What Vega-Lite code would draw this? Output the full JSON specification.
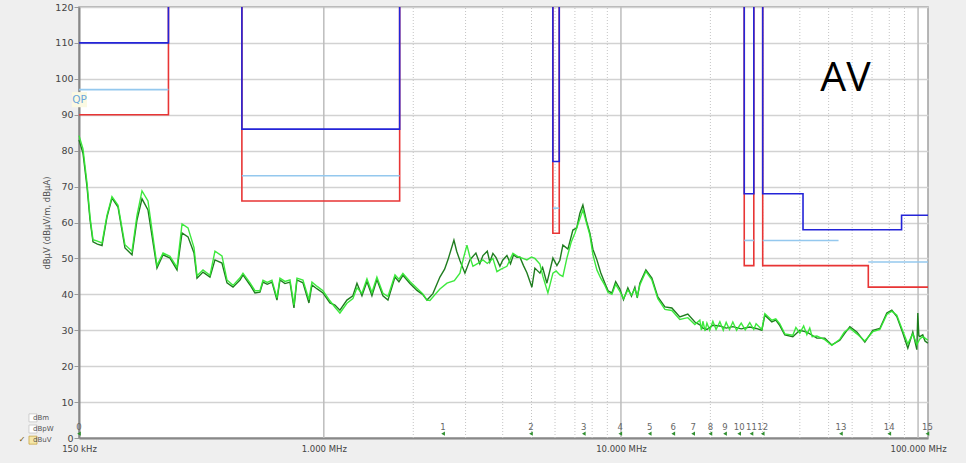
{
  "$schema": "https://vega.github.io/schema/vega-lite/v6.json",
  "width": 849,
  "height": 431,
  "autosize": {"type": "none"},
  "padding": {"left": 79, "top": 7, "right": 38, "bottom": 25},
  "background": "#efefef",
  "config": {
    "view": {"fill": "white", "stroke": "#a0a0a0", "strokeWidth": 1.5}
  },
  "datasets": {
    "grid": [
      {"f":1,"k":"major","v":0,"v2":120},{"f":10,"k":"major","v":0,"v2":120},{"f":100,"k":"major","v":0,"v2":120},
      {"f":2,"k":"minor","v":0,"v2":120},{"f":3,"k":"minor","v":0,"v2":120},{"f":4,"k":"minor","v":0,"v2":120},{"f":5,"k":"minor","v":0,"v2":120},{"f":6,"k":"minor","v":0,"v2":120},{"f":7,"k":"minor","v":0,"v2":120},{"f":8,"k":"minor","v":0,"v2":120},{"f":9,"k":"minor","v":0,"v2":120},
      {"f":20,"k":"minor","v":0,"v2":120},{"f":30,"k":"minor","v":0,"v2":120},{"f":40,"k":"minor","v":0,"v2":120},{"f":50,"k":"minor","v":0,"v2":120},{"f":60,"k":"minor","v":0,"v2":120},{"f":70,"k":"minor","v":0,"v2":120},{"f":80,"k":"minor","v":0,"v2":120},{"f":90,"k":"minor","v":0,"v2":120}
    ],
    "trace": [
      {"s":"d","f":0.15,"v":83.0},{"s":"d","f":0.1547,"v":79.3},{"s":"d","f":0.1596,"v":70},{"s":"d","f":0.1634,"v":60.7},{"s":"d","f":0.1672,"v":54.6},{"s":"d","f":0.173,"v":54.0},{"s":"d","f":0.1793,"v":53.6},{"s":"d","f":0.1863,"v":61.5},{"s":"d","f":0.1937,"v":66.8},{"s":"d","f":0.203,"v":64.3},{"s":"d","f":0.2142,"v":52.9},{"s":"d","f":0.2262,"v":51},{"s":"d","f":0.2351,"v":60.7},{"s":"d","f":0.2444,"v":66.6},{"s":"d","f":0.256,"v":63.5},{"s":"d","f":0.2745,"v":47.3},{"s":"d","f":0.2877,"v":51},{"s":"d","f":0.3036,"v":50.1},{"s":"d","f":0.3206,"v":46.8},{"s":"d","f":0.3333,"v":57.1},{"s":"d","f":0.3491,"v":56},{"s":"d","f":0.3657,"v":51.5},{"s":"d","f":0.3743,"v":44.5},{"s":"d","f":0.3921,"v":46.2},{"s":"d","f":0.4139,"v":44.8},{"s":"d","f":0.4302,"v":49.6},{"s":"d","f":0.4542,"v":48.7},{"s":"d","f":0.4722,"v":43.2},{"s":"d","f":0.4947,"v":42},{"s":"d","f":0.5223,"v":44},{"s":"d","f":0.5346,"v":45.4},{"s":"d","f":0.5645,"v":42.6},{"s":"d","f":0.5865,"v":40.4},{"s":"d","f":0.6096,"v":40.6},{"s":"d","f":0.624,"v":43.4},{"s":"d","f":0.645,"v":42.8},{"s":"d","f":0.669,"v":43.4},{"s":"d","f":0.6956,"v":38.4},{"s":"d","f":0.7119,"v":44},{"s":"d","f":0.74,"v":43},{"s":"d","f":0.7694,"v":43.4},{"s":"d","f":0.7935,"v":36.2},{"s":"d","f":0.8121,"v":44},{"s":"d","f":0.8508,"v":43.2},{"s":"d","f":0.8912,"v":37.6},{"s":"d","f":0.9122,"v":42.6},{"s":"d","f":0.95,"v":41.5},{"s":"d","f":0.9933,"v":40.4},{"s":"d","f":1.0485,"v":37.6},{"s":"d","f":1.09,"v":37.0},{"s":"d","f":1.133,"v":35.6},{"s":"d","f":1.196,"v":38.4},{"s":"d","f":1.253,"v":39.6},{"s":"d","f":1.293,"v":43.1},{"s":"d","f":1.344,"v":39.6},{"s":"d","f":1.397,"v":43.6},{"s":"d","f":1.452,"v":39.6},{"s":"d","f":1.509,"v":44.1},{"s":"d","f":1.581,"v":39.6},{"s":"d","f":1.644,"v":38.4},{"s":"d","f":1.736,"v":44.8},{"s":"d","f":1.79,"v":43.5},{"s":"d","f":1.846,"v":45.3},{"s":"d","f":1.949,"v":43},{"s":"d","f":2.058,"v":41.1},{"s":"d","f":2.15,"v":40},{"s":"d","f":2.225,"v":38.4},{"s":"d","f":2.329,"v":40.2},{"s":"d","f":2.459,"v":44.8},{"s":"d","f":2.55,"v":47},{"s":"d","f":2.617,"v":49.6},{"s":"d","f":2.741,"v":55.1},{"s":"d","f":2.8,"v":52},{"s":"d","f":2.871,"v":49.4},{"s":"d","f":2.985,"v":45.9},{"s":"d","f":3.103,"v":49.6},{"s":"d","f":3.25,"v":51.5},{"s":"d","f":3.35,"v":48.5},{"s":"d","f":3.432,"v":50.8},{"s":"d","f":3.55,"v":52},{"s":"d","f":3.62,"v":49},{"s":"d","f":3.708,"v":51.4},{"s":"d","f":3.8,"v":50.2},{"s":"d","f":3.915,"v":47.8},{"s":"d","f":4.0,"v":49.5},{"s":"d","f":4.133,"v":50.8},{"s":"d","f":4.25,"v":48.5},{"s":"d","f":4.35,"v":51},{"s":"d","f":4.466,"v":50.3},{"s":"d","f":4.569,"v":50.4},{"s":"d","f":4.7,"v":48},{"s":"d","f":4.825,"v":46},{"s":"d","f":5.016,"v":42},{"s":"d","f":5.133,"v":47.3},{"s":"d","f":5.337,"v":45.9},{"s":"d","f":5.45,"v":47.5},{"s":"d","f":5.634,"v":43.1},{"s":"d","f":5.903,"v":50.1},{"s":"d","f":6.089,"v":48},{"s":"d","f":6.23,"v":49.5},{"s":"d","f":6.377,"v":53.7},{"s":"d","f":6.63,"v":52.6},{"s":"d","f":6.891,"v":57.9},{"s":"d","f":7.1,"v":58.5},{"s":"d","f":7.275,"v":62.6},{"s":"d","f":7.446,"v":64.9},{"s":"d","f":7.65,"v":60.5},{"s":"d","f":7.862,"v":57},{"s":"d","f":8.05,"v":52.5},{"s":"d","f":8.3,"v":49.6},{"s":"d","f":8.55,"v":46},{"s":"d","f":8.832,"v":43.1},{"s":"d","f":9.05,"v":41},{"s":"d","f":9.323,"v":40.4},{"s":"d","f":9.6,"v":43.5},{"s":"d","f":9.917,"v":41.5},{"s":"d","f":10.2,"v":38.5},{"s":"d","f":10.55,"v":41.8},{"s":"d","f":10.85,"v":39.5},{"s":"d","f":11.14,"v":42},{"s":"d","f":11.35,"v":39},{"s":"d","f":11.58,"v":43.1},{"s":"d","f":12.13,"v":46.8},{"s":"d","f":12.71,"v":44.5},{"s":"d","f":13.31,"v":39.3},{"s":"d","f":14.06,"v":36.5},{"s":"d","f":14.84,"v":36.2},{"s":"d","f":15.78,"v":33.7},{"s":"d","f":16.79,"v":34.5},{"s":"d","f":17.73,"v":32.3},{"s":"d","f":18.43,"v":31.5},{"s":"d","f":18.87,"v":30.6},{"s":"d","f":19.47,"v":30.2},{"s":"d","f":20.39,"v":31.4},{"s":"d","f":21.53,"v":31.2},{"s":"d","f":22.6,"v":30.6},{"s":"d","f":23.8,"v":31},{"s":"d","f":25.4,"v":30.4},{"s":"d","f":27.14,"v":30.9},{"s":"d","f":28.5,"v":30.5},{"s":"d","f":29.8,"v":30},{"s":"d","f":30.5,"v":34.2},{"s":"d","f":32.2,"v":32.3},{"s":"d","f":33.2,"v":32.8},{"s":"d","f":34.26,"v":31.3},{"s":"d","f":35.61,"v":28.7},{"s":"d","f":37.89,"v":28.2},{"s":"d","f":40.0,"v":30},{"s":"d","f":42.24,"v":29.5},{"s":"d","f":44.0,"v":28.6},{"s":"d","f":45.63,"v":27.8},{"s":"d","f":48.54,"v":27.8},{"s":"d","f":51.26,"v":25.9},{"s":"d","f":54.54,"v":27.2},{"s":"d","f":56.5,"v":29},{"s":"d","f":58.94,"v":31},{"s":"d","f":62.22,"v":29.5},{"s":"d","f":66.2,"v":26.7},{"s":"d","f":70.43,"v":30},{"s":"d","f":74.36,"v":30.5},{"s":"d","f":78.5,"v":34.8},{"s":"d","f":81.59,"v":35.6},{"s":"d","f":84.81,"v":33.8},{"s":"d","f":88.85,"v":29.2},{"s":"d","f":92.36,"v":25},{"s":"d","f":96.0,"v":29.5},{"s":"d","f":99.05,"v":24.6},{"s":"d","f":99.8,"v":34.8},{"s":"d","f":100.6,"v":28.5},{"s":"d","f":101.4,"v":28.2},{"s":"d","f":103.7,"v":28.7},{"s":"d","f":105.5,"v":27},{"s":"d","f":107.9,"v":26.4},
      {"s":"l","f":0.15,"v":84.2},{"s":"l","f":0.1547,"v":80.5},{"s":"l","f":0.1596,"v":71},{"s":"l","f":0.1634,"v":61.5},{"s":"l","f":0.1672,"v":55.2},{"s":"l","f":0.173,"v":54.8},{"s":"l","f":0.1793,"v":54.3},{"s":"l","f":0.1863,"v":62},{"s":"l","f":0.1937,"v":67.2},{"s":"l","f":0.203,"v":64.8},{"s":"l","f":0.2142,"v":53.8},{"s":"l","f":0.2262,"v":52},{"s":"l","f":0.2351,"v":62},{"s":"l","f":0.2444,"v":68.8},{"s":"l","f":0.256,"v":66},{"s":"l","f":0.2745,"v":48},{"s":"l","f":0.2877,"v":51.5},{"s":"l","f":0.3036,"v":50.6},{"s":"l","f":0.3206,"v":47.5},{"s":"l","f":0.3333,"v":59.6},{"s":"l","f":0.3491,"v":58.5},{"s":"l","f":0.3657,"v":53},{"s":"l","f":0.3743,"v":45.2},{"s":"l","f":0.3921,"v":46.8},{"s":"l","f":0.4139,"v":45.3},{"s":"l","f":0.4302,"v":52},{"s":"l","f":0.4542,"v":50.7},{"s":"l","f":0.4722,"v":44},{"s":"l","f":0.4947,"v":42.5},{"s":"l","f":0.5223,"v":44.6},{"s":"l","f":0.5346,"v":45.9},{"s":"l","f":0.5645,"v":43.2},{"s":"l","f":0.5865,"v":41},{"s":"l","f":0.6096,"v":41},{"s":"l","f":0.624,"v":43.9},{"s":"l","f":0.645,"v":43.3},{"s":"l","f":0.669,"v":43.9},{"s":"l","f":0.6956,"v":39},{"s":"l","f":0.7119,"v":44.5},{"s":"l","f":0.74,"v":43.6},{"s":"l","f":0.7694,"v":44},{"s":"l","f":0.7935,"v":37},{"s":"l","f":0.8121,"v":44.5},{"s":"l","f":0.8508,"v":44},{"s":"l","f":0.8912,"v":38.5},{"s":"l","f":0.9122,"v":43.4},{"s":"l","f":0.95,"v":42.2},{"s":"l","f":0.9933,"v":41},{"s":"l","f":1.0485,"v":38.2},{"s":"l","f":1.09,"v":36.4},{"s":"l","f":1.133,"v":34.8},{"s":"l","f":1.196,"v":37.5},{"s":"l","f":1.253,"v":38.8},{"s":"l","f":1.293,"v":41.8},{"s":"l","f":1.344,"v":40.3},{"s":"l","f":1.397,"v":44.3},{"s":"l","f":1.452,"v":40.5},{"s":"l","f":1.509,"v":44.8},{"s":"l","f":1.581,"v":40.3},{"s":"l","f":1.644,"v":39.4},{"s":"l","f":1.736,"v":45.4},{"s":"l","f":1.79,"v":44.2},{"s":"l","f":1.846,"v":45.8},{"s":"l","f":1.949,"v":43.6},{"s":"l","f":2.058,"v":41.7},{"s":"l","f":2.15,"v":40.2},{"s":"l","f":2.225,"v":38.4},{"s":"l","f":2.276,"v":38.3},{"s":"l","f":2.36,"v":39.8},{"s":"l","f":2.459,"v":41.5},{"s":"l","f":2.597,"v":43.1},{"s":"l","f":2.75,"v":43.8},{"s":"l","f":2.871,"v":45.9},{"s":"l","f":2.95,"v":50},{"s":"l","f":3.032,"v":53.7},{"s":"l","f":3.1,"v":50.5},{"s":"l","f":3.176,"v":47.8},{"s":"l","f":3.3,"v":48.6},{"s":"l","f":3.432,"v":49.6},{"s":"l","f":3.55,"v":48.6},{"s":"l","f":3.708,"v":50},{"s":"l","f":3.825,"v":46.3},{"s":"l","f":3.95,"v":47},{"s":"l","f":4.133,"v":47.8},{"s":"l","f":4.329,"v":51.4},{"s":"l","f":4.5,"v":50.5},{"s":"l","f":4.677,"v":50},{"s":"l","f":4.825,"v":49.6},{"s":"l","f":5.0,"v":50.4},{"s":"l","f":5.133,"v":50},{"s":"l","f":5.337,"v":48.4},{"s":"l","f":5.462,"v":45},{"s":"l","f":5.678,"v":40.4},{"s":"l","f":5.903,"v":45.9},{"s":"l","f":6.05,"v":46.5},{"s":"l","f":6.23,"v":45.4},{"s":"l","f":6.377,"v":45},{"s":"l","f":6.578,"v":50.1},{"s":"l","f":6.8,"v":54.5},{"s":"l","f":6.999,"v":57},{"s":"l","f":7.2,"v":60},{"s":"l","f":7.446,"v":63.5},{"s":"l","f":7.65,"v":60},{"s":"l","f":7.862,"v":56.5},{"s":"l","f":8.05,"v":51},{"s":"l","f":8.3,"v":46.8},{"s":"l","f":8.55,"v":44.5},{"s":"l","f":8.832,"v":42.5},{"s":"l","f":9.05,"v":40.5},{"s":"l","f":9.323,"v":40},{"s":"l","f":9.6,"v":42.8},{"s":"l","f":9.917,"v":40.8},{"s":"l","f":10.2,"v":38.8},{"s":"l","f":10.55,"v":41.2},{"s":"l","f":10.85,"v":39.8},{"s":"l","f":11.14,"v":41.5},{"s":"l","f":11.35,"v":39.5},{"s":"l","f":11.58,"v":42.6},{"s":"l","f":12.13,"v":46.4},{"s":"l","f":12.71,"v":44},{"s":"l","f":13.31,"v":38.8},{"s":"l","f":14.06,"v":35.8},{"s":"l","f":14.84,"v":35.5},{"s":"l","f":15.78,"v":33},{"s":"l","f":16.79,"v":33.5},{"s":"l","f":17.73,"v":31.6},{"s":"l","f":18.43,"v":32.8},{"s":"l","f":18.65,"v":30},{"s":"l","f":18.87,"v":32.5},{"s":"l","f":19.2,"v":29.8},{"s":"l","f":19.47,"v":32},{"s":"l","f":19.9,"v":30},{"s":"l","f":20.39,"v":32.5},{"s":"l","f":20.9,"v":30.2},{"s":"l","f":21.53,"v":32.4},{"s":"l","f":22.1,"v":30},{"s":"l","f":22.6,"v":32.2},{"s":"l","f":23.2,"v":30.2},{"s":"l","f":23.8,"v":32.3},{"s":"l","f":24.5,"v":30},{"s":"l","f":25.4,"v":32},{"s":"l","f":26.2,"v":30.1},{"s":"l","f":27.14,"v":32.1},{"s":"l","f":28.0,"v":30.2},{"s":"l","f":28.5,"v":31.8},{"s":"l","f":29.8,"v":30.2},{"s":"l","f":30.5,"v":34.6},{"s":"l","f":32.2,"v":32.8},{"s":"l","f":33.2,"v":33.2},{"s":"l","f":34.26,"v":31.8},{"s":"l","f":35.61,"v":29},{"s":"l","f":37.89,"v":28.6},{"s":"l","f":38.8,"v":30.8},{"s":"l","f":40.0,"v":29.2},{"s":"l","f":41.2,"v":31.2},{"s":"l","f":42.24,"v":28.8},{"s":"l","f":43.2,"v":30.6},{"s":"l","f":44.0,"v":28.2},{"s":"l","f":45.63,"v":28.4},{"s":"l","f":48.54,"v":27.4},{"s":"l","f":51.26,"v":25.8},{"s":"l","f":54.54,"v":27.5},{"s":"l","f":56.5,"v":29.5},{"s":"l","f":58.94,"v":30.6},{"s":"l","f":62.22,"v":29},{"s":"l","f":66.2,"v":27},{"s":"l","f":70.43,"v":29.6},{"s":"l","f":74.36,"v":30.2},{"s":"l","f":78.5,"v":34.4},{"s":"l","f":81.59,"v":35.3},{"s":"l","f":84.81,"v":34.2},{"s":"l","f":88.85,"v":29.8},{"s":"l","f":92.36,"v":26.2},{"s":"l","f":96.0,"v":29},{"s":"l","f":99.05,"v":26},{"s":"l","f":101.4,"v":27.6},{"s":"l","f":103.7,"v":28.2},{"s":"l","f":105.5,"v":27.8},{"s":"l","f":107.9,"v":27.2}
    ],
    "limits": [
      {"s":"AV","g":"R1","i":0,"f":0.15,"v":90},{"s":"AV","g":"R1","i":1,"f":0.3,"v":90},{"s":"AV","g":"R1","i":2,"f":0.3,"v":120},
      {"s":"AV","g":"R2","i":0,"f":0.53,"v":120},{"s":"AV","g":"R2","i":1,"f":0.53,"v":66},{"s":"AV","g":"R2","i":2,"f":1.8,"v":66},{"s":"AV","g":"R2","i":3,"f":1.8,"v":120},
      {"s":"AV","g":"R3","i":0,"f":5.9,"v":120},{"s":"AV","g":"R3","i":1,"f":5.9,"v":57},{"s":"AV","g":"R3","i":2,"f":6.2,"v":57},{"s":"AV","g":"R3","i":3,"f":6.2,"v":120},
      {"s":"AV","g":"R4","i":0,"f":26,"v":120},{"s":"AV","g":"R4","i":1,"f":26,"v":48},{"s":"AV","g":"R4","i":2,"f":28,"v":48},{"s":"AV","g":"R4","i":3,"f":28,"v":120},
      {"s":"AV","g":"R5","i":0,"f":30,"v":120},{"s":"AV","g":"R5","i":1,"f":30,"v":48},{"s":"AV","g":"R5","i":2,"f":68,"v":48},{"s":"AV","g":"R5","i":3,"f":68,"v":42},{"s":"AV","g":"R5","i":4,"f":108,"v":42},
      {"s":"PK","g":"B1","i":0,"f":0.15,"v":110},{"s":"PK","g":"B1","i":1,"f":0.3,"v":110},{"s":"PK","g":"B1","i":2,"f":0.3,"v":120},
      {"s":"PK","g":"B2","i":0,"f":0.53,"v":120},{"s":"PK","g":"B2","i":1,"f":0.53,"v":86},{"s":"PK","g":"B2","i":2,"f":1.8,"v":86},{"s":"PK","g":"B2","i":3,"f":1.8,"v":120},
      {"s":"PK","g":"B3","i":0,"f":5.9,"v":120},{"s":"PK","g":"B3","i":1,"f":5.9,"v":77},{"s":"PK","g":"B3","i":2,"f":6.2,"v":77},{"s":"PK","g":"B3","i":3,"f":6.2,"v":120},
      {"s":"PK","g":"B4","i":0,"f":26,"v":120},{"s":"PK","g":"B4","i":1,"f":26,"v":68},{"s":"PK","g":"B4","i":2,"f":28,"v":68},{"s":"PK","g":"B4","i":3,"f":28,"v":120},
      {"s":"PK","g":"B5","i":0,"f":30,"v":120},{"s":"PK","g":"B5","i":1,"f":30,"v":68},{"s":"PK","g":"B5","i":2,"f":41,"v":68},{"s":"PK","g":"B5","i":3,"f":41,"v":58},{"s":"PK","g":"B5","i":4,"f":88,"v":58},{"s":"PK","g":"B5","i":5,"f":88,"v":62},{"s":"PK","g":"B5","i":6,"f":108,"v":62},
      {"s":"QP","g":"Q1","i":0,"f":0.15,"v":97},{"s":"QP","g":"Q1","i":1,"f":0.3,"v":97},
      {"s":"QP","g":"Q2","i":0,"f":0.53,"v":73},{"s":"QP","g":"Q2","i":1,"f":1.8,"v":73},
      {"s":"QP","g":"Q3","i":0,"f":5.9,"v":64},{"s":"QP","g":"Q3","i":1,"f":6.2,"v":64},
      {"s":"QP","g":"Q4","i":0,"f":26,"v":55},{"s":"QP","g":"Q4","i":1,"f":28,"v":55},
      {"s":"QP","g":"Q5","i":0,"f":30,"v":55},{"s":"QP","g":"Q5","i":1,"f":54,"v":55},
      {"s":"QP","g":"Q6","i":0,"f":68,"v":49},{"s":"QP","g":"Q6","i":1,"f":108,"v":49}
    ],
    "markers": [
      {"n":"0","f":0.15,"v":1.2},{"n":"1","f":2.52,"v":1.2},{"n":"2","f":4.98,"v":1.2},{"n":"3","f":7.5,"v":1.2},{"n":"4","f":9.95,"v":1.2},{"n":"5","f":12.5,"v":1.2},{"n":"6","f":15,"v":1.2},{"n":"7","f":17.5,"v":1.2},{"n":"8","f":20,"v":1.2},{"n":"9","f":22.4,"v":1.2},{"n":"10","f":25,"v":1.2},{"n":"11","f":27.5,"v":1.2},{"n":"12","f":30,"v":1.2},{"n":"13","f":55,"v":1.2},{"n":"14","f":80,"v":1.2},{"n":"15","f":107.5,"v":1.2}
    ],
    "units": [
      {"t":"dBm","on":false,"f":0.105,"v":5.6},{"t":"dBpW","on":false,"f":0.105,"v":2.5},{"t":"dBuV","on":true,"f":0.105,"v":-0.6}
    ],
    "notes": [
      {"t":"QP","f":0.1505,"v":94.2},{"t":"AV","f":57,"v":100}
    ]
  },
  "encoding": {
    "x": {"field": "f", "type": "quantitative",
          "scale": {"type": "log", "domain": [0.15, 108], "nice": false},
          "axis": {"title": null, "values": [0.15, 1, 10, 100], "grid": false, "ticks": false,
                   "labelExpr": "datum.value < 0.5 ? '150 kHz' : datum.value < 5 ? '1.000 MHz' : datum.value < 50 ? '10.000 MHz' : '100.000 MHz'",
                   "labelFlush": false, "labelOverlap": false, "labelPadding": 6,
                   "labelFontSize": 8.5, "labelFont": "DejaVu Sans", "labelColor": "#444",
                   "domainColor": "#888", "domainWidth": 2}},
    "y": {"field": "v", "type": "quantitative",
          "scale": {"domain": [0, 120], "nice": false, "zero": false},
          "axis": {"title": "dBµV  (dBµV/m, dBµA)", "values": [0,10,20,30,40,50,60,70,80,90,100,110,120],
                   "labelFontSize": 9.5, "labelFont": "DejaVu Sans", "labelColor": "#444", "labelPadding": 1,
                   "tickSize": 5, "tickColor": "#9a9a9a", "domainColor": "#888", "domainWidth": 2,
                   "gridColor": "#d2d2d2", "gridWidth": 1.5,
                   "titleFont": "DejaVu Sans", "titleFontSize": 8.5, "titleFontWeight": "normal", "titleColor": "#555", "titlePadding": 3}}
  },
  "layer": [
    {"data": {"name": "grid"}, "transform": [{"filter": "datum.k == 'minor'"}],
     "mark": {"type": "rule", "color": "#c4c4c4", "strokeWidth": 1, "strokeDash": [1, 2]},
     "encoding": {"y2": {"field": "v2"}}},
    {"data": {"name": "grid"}, "transform": [{"filter": "datum.k == 'major'"}],
     "mark": {"type": "rule", "color": "#bdbdbd", "strokeWidth": 1.5},
     "encoding": {"y2": {"field": "v2"}}},
    {"data": {"name": "trace"}, "transform": [{"filter": "datum.s == 'd'"}],
     "mark": {"type": "line", "strokeWidth": 1.4, "color": "#1f7d1f"}},
    {"data": {"name": "trace"}, "transform": [{"filter": "datum.s == 'l'"}],
     "mark": {"type": "line", "strokeWidth": 1.4, "color": "#33e833", "opacity": 0.95}},
    {"data": {"name": "limits"}, "transform": [{"filter": "datum.s == 'AV'"}],
     "mark": {"type": "line", "strokeWidth": 1.6, "color": "#e83535"},
     "encoding": {"detail": {"field": "g"}, "order": {"field": "i"}}},
    {"data": {"name": "limits"}, "transform": [{"filter": "datum.s == 'QP'"}],
     "mark": {"type": "line", "strokeWidth": 1.6, "color": "#94c8ee"},
     "encoding": {"detail": {"field": "g"}, "order": {"field": "i"}}},
    {"data": {"name": "limits"}, "transform": [{"filter": "datum.s == 'PK'"}],
     "mark": {"type": "line", "strokeWidth": 1.6, "color": "#2424d8"},
     "encoding": {"detail": {"field": "g"}, "order": {"field": "i"}}},
    {"data": {"name": "markers"},
     "mark": {"type": "point", "shape": "triangle-left", "filled": true, "color": "#2f8f2f", "size": 18, "opacity": 1}},
    {"data": {"name": "markers"},
     "mark": {"type": "text", "fontSize": 8.5, "font": "DejaVu Sans", "color": "#666", "baseline": "middle", "align": "center", "dy": -7},
     "encoding": {"text": {"field": "n"}}},
    {"data": {"name": "notes"}, "transform": [{"filter": "datum.t == 'QP'"}],
     "mark": {"type": "point", "shape": "square", "filled": true, "color": "#fbf9e2", "size": 230, "opacity": 1}},
    {"data": {"name": "notes"}, "transform": [{"filter": "datum.t == 'QP'"}],
     "mark": {"type": "text", "fontSize": 10.5, "font": "DejaVu Sans", "color": "#6aa6dc", "align": "center", "baseline": "middle"},
     "encoding": {"text": {"field": "t"}}},
    {"data": {"name": "notes"}, "transform": [{"filter": "datum.t == 'AV'"}],
     "mark": {"type": "text", "fontSize": 41, "font": "Open Sans", "color": "#000000", "align": "center", "baseline": "middle"},
     "encoding": {"text": {"field": "t"}}},
    {"data": {"name": "units"}, "transform": [{"filter": "!datum.on"}],
     "mark": {"type": "point", "shape": "square", "filled": true, "color": "#ffffff", "stroke": "#c4c4c4", "strokeWidth": 0.8, "size": 64, "opacity": 1, "dx": -11}},
    {"data": {"name": "units"}, "transform": [{"filter": "datum.on"}],
     "mark": {"type": "point", "shape": "square", "filled": true, "color": "#f5e7a8", "stroke": "#c8a548", "strokeWidth": 0.8, "size": 64, "opacity": 1, "dx": -11}},
    {"data": {"name": "units"}, "transform": [{"filter": "datum.on"}],
     "mark": {"type": "text", "fontSize": 8, "font": "DejaVu Sans", "color": "#6b5200", "align": "center", "baseline": "middle", "dx": -11, "text": "✓"}},
    {"data": {"name": "units"},
     "mark": {"type": "text", "fontSize": 7, "font": "DejaVu Sans", "color": "#555", "align": "left", "baseline": "middle"},
     "encoding": {"text": {"field": "t"}}}
  ]
}
